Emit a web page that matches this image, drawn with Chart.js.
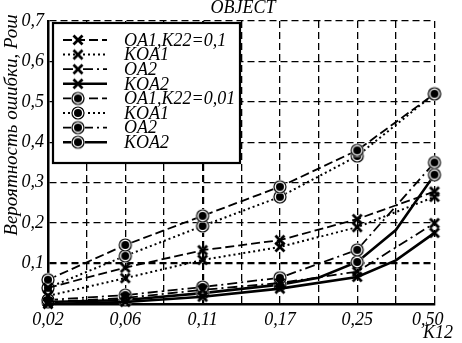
<!DOCTYPE html>
<html>
<head>
<meta charset="utf-8">
<script src="https://cdn.jsdelivr.net/npm/chart.js@4/dist/chart.umd.min.js"></script>
<style>
  html, body { margin: 0; padding: 0; background: #fff; }
  #c { display: block; }
</style>
</head>
<body>
<canvas id="c" width="462" height="343"></canvas>
<script>
// K12 values (labels on whole steps, half steps carry only line bends)
const k12Labels = ['0,02', '0,06', '0,11', '0,17', '0,25', '0,50'];
const xSteps = [0, 0.5, 1, 1.5, 2, 2.5, 3, 3.5, 4, 4.5, 5];

// K22 = 0,1 (cross markers)
const oa1K01  = [0.040, null, 0.090, null, 0.133, null, 0.158, null, 0.210, null, 0.278];
const koa1K01 = [0.020, null, 0.064, null, 0.109, null, 0.141, null, 0.190, null, 0.265];
const oa2K01  = [0.005, null, 0.015, null, 0.035, null, 0.052, null, 0.080, null, 0.200];
const koa2K01 = [0.000, null, 0.005, null, 0.018, null, 0.038, null, 0.067, 0.108, 0.176];

// K22 = 0,01 (circle markers)
const oa1K001  = [0.060, null, 0.146, null, 0.218, null, 0.290, null, 0.380, null, 0.520];
const koa1K001 = [0.040, null, 0.119, null, 0.193, null, 0.265, null, 0.366, null, 0.520];
const oa2K001  = [0.010, null, 0.022, null, 0.042, null, 0.065, null, 0.134, null, 0.350];
const koa2K001 = [0.005, null, 0.010, null, 0.027, null, 0.048, 0.065, 0.104, 0.183, 0.320];

const seriesLabels = ['OA1,K22=0,1', 'KOA1', 'OA2', 'KOA2', 'OA1,K22=0,01', 'KOA1', 'OA2', 'KOA2'];

const FONT = 'Liberation Serif';

// маркеры рисуем на отдельных канвасах
function makeCross() {
    const c = document.createElement('canvas');
    c.width = 14; c.height = 14;
    const g = c.getContext('2d');
    g.strokeStyle = '#000';
    g.lineWidth = 2.8;
    g.beginPath();
    g.moveTo(2.5, 2.5); g.lineTo(11.5, 11.5);
    g.moveTo(11.5, 2.5); g.lineTo(2.5, 11.5);
    g.stroke();
    return c;
}
function makeRing() {
    const c = document.createElement('canvas');
    c.width = 16; c.height = 16;
    const g = c.getContext('2d');
    g.fillStyle = '#fff';
    g.beginPath(); g.arc(8, 8, 7, 0, Math.PI * 2); g.fill();
    g.strokeStyle = '#000';
    g.lineWidth = 1.2;
    g.beginPath(); g.arc(8, 8, 6, 0, Math.PI * 2); g.stroke();
    g.fillStyle = '#000';
    g.beginPath(); g.arc(8, 8, 4, 0, Math.PI * 2); g.fill();
    return c;
}
const crossImg = makeCross();
const ringImg = makeRing();

const DASH = [9, 4];
const DOT = [2, 3];
const DASHDOT = [10, 4, 2, 4];
const SOLID = [];

function toPoints(arr) {
    const pts = [];
    arr.forEach((v, i) => { if (v !== null) pts.push({ x: xSteps[i], y: v }); });
    return pts;
}

const styles = [
    [oa1K01, DASH, 1.8, crossImg],
    [koa1K01, DOT, 2, crossImg],
    [oa2K01, DASHDOT, 1.8, crossImg],
    [koa2K01, SOLID, 2.6, crossImg],
    [oa1K001, DASH, 1.8, ringImg],
    [koa1K001, DOT, 2, ringImg],
    [oa2K001, DASHDOT, 1.8, ringImg],
    [koa2K001, SOLID, 2.6, ringImg]
];

const datasets = styles.map(([arr, dash, w, img], i) => ({
    label: seriesLabels[i],
    data: toPoints(arr),
    borderColor: '#000',
    backgroundColor: '#000',
    borderWidth: w,
    borderDash: dash,
    pointStyle: img,
    pointRadius: ctx => Number.isInteger(ctx.raw.x) ? 6 : 0,
    pointHoverRadius: 0,
    tension: 0,
    clip: false
}));

// легенда в рамке, заголовок и подписи осей
const decorPlugin = {
    id: 'decor',
    afterDraw(chart) {
        const ctx = chart.ctx;
        ctx.save();
        // box
        ctx.fillStyle = '#fff';
        ctx.fillRect(53, 23, 187, 140);
        ctx.strokeStyle = '#000';
        ctx.lineWidth = 2.2;
        ctx.setLineDash([]);
        ctx.strokeRect(53, 23, 187, 140);

        chart.data.datasets.forEach((ds, i) => {
            const y = 40 + i * 14.6;
            ctx.beginPath();
            ctx.setLineDash(ds.borderDash);
            ctx.lineWidth = ds.borderWidth;
            ctx.moveTo(63, y);
            ctx.lineTo(107, y);
            ctx.stroke();
            ctx.setLineDash([]);
            const img = ds.pointStyle;
            ctx.drawImage(img, 78 - img.width / 2, y - img.height / 2);
            ctx.fillStyle = '#000';
            ctx.font = 'italic 18px "' + FONT + '"';
            ctx.textAlign = 'left';
            ctx.textBaseline = 'middle';
            ctx.fillText(ds.label, 124, y + 1);
        });

        ctx.fillStyle = '#000';
        ctx.font = 'italic 18px "' + FONT + '"';
        ctx.textAlign = 'center';
        ctx.textBaseline = 'middle';
        ctx.fillText('OBJECT', 243, 8);
        ctx.fillText('K12', 438, 333);

        ctx.translate(12, 125);
        ctx.rotate(-Math.PI / 2);
        ctx.font = 'italic 19px "' + FONT + '"';
        ctx.fillText('Вероятность ошибки, Рош', 0, 0);
        ctx.restore();
    }
};

new Chart(document.getElementById('c'), {
    type: 'line',
    data: { datasets },
    plugins: [decorPlugin],
    options: {
        responsive: false,
        animation: false,
        devicePixelRatio: 1,
        layout: { padding: { top: 21, right: 7, left: 0, bottom: 0 } },
        plugins: { legend: { display: false }, tooltip: { enabled: false }, title: { display: false } },
        scales: {
            x: {
                type: 'linear',
                min: 0,
                max: 5,
                afterFit: s => { s.height = 39; },
                afterBuildTicks: s => { s.ticks = xSteps.map(v => ({ value: v })); },
                ticks: {
                    autoSkip: false,
                    maxRotation: 0,
                    padding: 5,
                    color: '#000',
                    font: { family: FONT, size: 18, style: 'italic' },
                    callback: v => {
                        if (!Number.isInteger(v)) return '';
                        return v === 5 ? k12Labels[v] + '\u00a0\u00a0\u00a0' : k12Labels[v];
                    }
                },
                grid: {
                    color: '#000',
                    drawTicks: false,
                    lineWidth: ctx => ctx.tick && ctx.tick.value === 2 ? 2.2 : 1.3
                },
                border: { display: true, color: '#000', width: 2.5, dash: [7, 4] }
            },
            y: {
                min: 0,
                max: 0.7,
                afterFit: s => { s.width = 48; },
                ticks: {
                    stepSize: 0.1,
                    padding: 4,
                    color: '#000',
                    font: { family: FONT, size: 18, style: 'italic' },
                    callback: v => v < 0.05 ? '' : v.toFixed(1).replace('.', ',')
                },
                grid: {
                    color: '#000',
                    drawTicks: false,
                    lineWidth: ctx => ctx.tick && Math.abs(ctx.tick.value - 0.1) < 1e-6 ? 2.2 : 1.3
                },
                border: { display: true, color: '#000', width: 2.5, dash: [7, 4] }
            }
        }
    }
});
</script>
</body>
</html>
